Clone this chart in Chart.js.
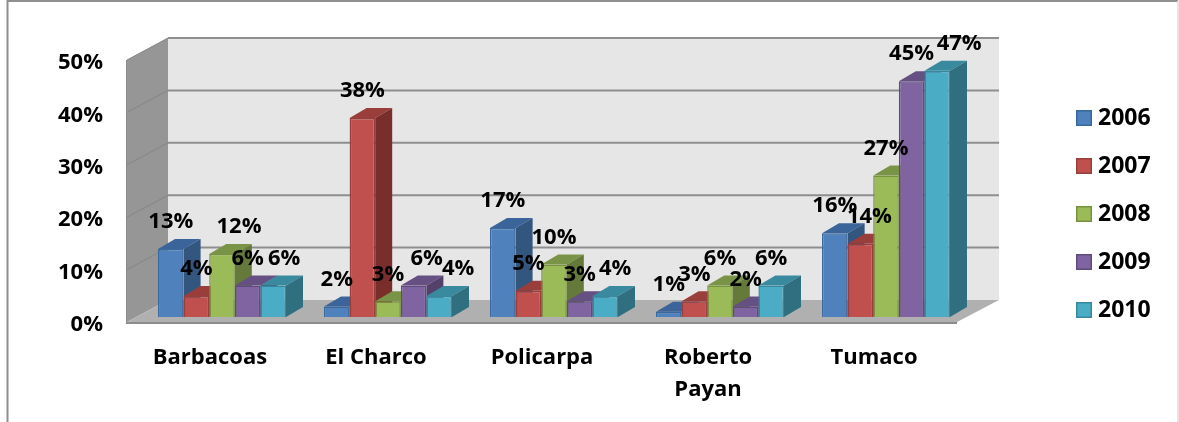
<!DOCTYPE html>
<html>
<head>
<meta charset="utf-8">
<style>html,body{margin:0;padding:0;background:#fff}canvas{display:block}</style>
<script src="https://cdn.jsdelivr.net/npm/chart.js@4/dist/chart.umd.min.js"></script>
</head>
<body>
<canvas id="c" width="1179" height="422"></canvas>
<script>
const categories = ['Barbacoas', 'El Charco', 'Policarpa', ['Roberto', 'Payan'], 'Tumaco'];
const seriesNames = ['2006', '2007', '2008', '2009', '2010'];
const values2006 = [13, 2, 17, 1, 16];
const values2007 = [4, 38, 5, 3, 14];
const values2008 = [12, 3, 10, 6, 27];
const values2009 = [6, 6, 3, 2, 45];
const values2010 = [6, 4, 4, 6, 47];
const allValues = [values2006, values2007, values2008, values2009, values2010];

const frontColors = ['#4F81BD', '#C0504D', '#9BBB59', '#8064A2', '#4BACC6'];
const edgeColors = ['#3A679C', '#963F3C', '#76923F', '#5F4A7E', '#36889F'];
const topColors = ['#3B659A', '#9A3E3B', '#7A9447', '#664F82', '#39899F'];
const sideColors = ['#33567F', '#7A2E2C', '#64793A', '#544169', '#2F6F80'];
// manual label shifts (series x category), as placed in the reference
const labelShiftX = [[0,0,0,0,0],[0,0,0,0,9],[17,0,0,0,0],[0,13,0,0,0],[11,19,10,0,22]];

const FONT = '"Open Sans", Lato, sans-serif';
const WALL = {dx: 41, dy: -22};
const BAR_SHIFT = {x: 12, y: -5};
const BAR_DEPTH = {dx: 17, dy: -10};
const Y_LABEL_DROP = 3;

function poly(ctx, pts, fill) {
  ctx.beginPath();
  pts.forEach((p, i) => i ? ctx.lineTo(p[0], p[1]) : ctx.moveTo(p[0], p[1]));
  ctx.closePath();
  ctx.fillStyle = fill;
  ctx.fill();
}

function legendIcon(i) {
  const c = document.createElement('canvas');
  c.width = 16; c.height = 16;
  const g = c.getContext('2d');
  g.fillStyle = frontColors[i];
  g.fillRect(0, 0, 16, 16);
  g.strokeStyle = edgeColors[i];
  g.lineWidth = 1.5;
  g.strokeRect(0.75, 0.75, 14.5, 14.5);
  return c;
}
const legendIcons = seriesNames.map((_, i) => legendIcon(i));

const scene = {
  id: 'scene',
  beforeLayout(chart) {
    const l = chart.legend;
    if (l && !l._patched) {
      const f = l.fit;
      l.fit = function () { f.call(this); this.width = 222; };
      l._patched = true;
    }
    const y = chart.scales.y;
    if (y && !y._patched) {
      const c = y._computeLabelItems;
      y._computeLabelItems = function (area) {
        const items = c.call(this, area);
        items.forEach(it => { it.options.translation = [it.options.translation[0], it.options.translation[1] + Y_LABEL_DROP]; });
        return items;
      };
      y._patched = true;
    }
  },
  afterLayout(chart) {
    const l = chart.legend;
    l.left = 1056.5; l.right = 1179;
    l.top = 0; l.bottom = 428;
    l.adjustHitBoxes();
  },
  beforeDraw(chart) {
    const ctx = chart.ctx;
    ctx.save();
    ctx.fillStyle = '#fff';
    ctx.fillRect(0, 0, chart.width, chart.height);
    ctx.strokeStyle = '#8f8f8f';
    ctx.lineWidth = 2;
    ctx.beginPath();
    ctx.moveTo(7.5, 422); ctx.lineTo(7.5, 1); ctx.lineTo(1178, 1);
    ctx.stroke();
    ctx.strokeStyle = '#e4e4e4';
    ctx.beginPath();
    ctx.moveTo(1178, 1); ctx.lineTo(1178, 422);
    ctx.stroke();
    ctx.restore();
  },
  beforeDatasetsDraw(chart) {
    const ctx = chart.ctx, a = chart.chartArea, y = chart.scales.y;
    const L = a.left, R = a.right, T = a.top, B = a.bottom;
    ctx.save();
    poly(ctx, [[L + WALL.dx, T + WALL.dy], [R + WALL.dx + 1, T + WALL.dy], [R + WALL.dx + 1, B + WALL.dy], [L + WALL.dx, B + WALL.dy]], '#E6E6E6');
    poly(ctx, [[L, T], [L + WALL.dx, T + WALL.dy], [L + WALL.dx, B + WALL.dy], [L, B]], '#969696');
    poly(ctx, [[L, B], [R, B], [R + WALL.dx + 1, B + WALL.dy], [L + WALL.dx, B + WALL.dy]], '#B0B0B0');
    y.ticks.forEach(t => {
      const py = y.getPixelForValue(t.value);
      if (t.value > 0) {
        ctx.strokeStyle = '#8E8E8E';
        ctx.lineWidth = 2;
        ctx.beginPath();
        ctx.moveTo(L + WALL.dx, py + WALL.dy);
        ctx.lineTo(R + WALL.dx + 1, py + WALL.dy);
        ctx.stroke();
        ctx.strokeStyle = '#858585';
        ctx.lineWidth = 1;
        ctx.beginPath();
        ctx.moveTo(L, py);
        ctx.lineTo(L + WALL.dx, py + WALL.dy);
        ctx.stroke();
      }
    });
    ctx.fillStyle = '#8C8C8C';
    ctx.fillRect(L - 1, B, R - L + 1, 2);
    ctx.fillRect(L - 1, T, 1, B - T);
    ctx.restore();
  },
  beforeDatasetDraw() { return false; },
  afterDatasetsDraw(chart) {
    const ctx = chart.ctx;
    ctx.save();
    ctx.translate(BAR_SHIFT.x, BAR_SHIFT.y);
    seriesNames.forEach((_, i) => {
      const meta = chart.getDatasetMeta(i);
      meta.data.forEach(el => {
        const x0 = el.x - el.width / 2, x1 = el.x + el.width / 2;
        const d = BAR_DEPTH;
        poly(ctx, [[x0, el.y], [x0 + d.dx, el.y + d.dy], [x1 + d.dx, el.y + d.dy], [x1, el.y]], topColors[i]);
        poly(ctx, [[x1, el.y], [x1 + d.dx, el.y + d.dy], [x1 + d.dx, el.base + d.dy], [x1, el.base]], sideColors[i]);
        el.draw(ctx);
      });
    });
    ctx.fillStyle = '#000';
    ctx.font = 'bold 22px ' + FONT;
    ctx.textAlign = 'center';
    ctx.textBaseline = 'middle';
    seriesNames.forEach((_, i) => {
      chart.getDatasetMeta(i).data.forEach((el, j) => {
        ctx.fillText(allValues[i][j] + '%', el.x + labelShiftX[i][j], el.y - 27);
      });
    });
    ctx.restore();
  }
};

new Chart(document.getElementById('c'), {
  type: 'bar',
  data: {
    labels: categories,
    datasets: seriesNames.map((n, i) => ({
      label: n,
      data: allValues[i],
      backgroundColor: frontColors[i],
      borderColor: edgeColors[i],
      borderWidth: 1.5,
      barPercentage: 1,
      categoryPercentage: 0.771
    }))
  },
  options: {
    responsive: false,
    animation: false,
    layout: {padding: {top: 60, left: 0, right: 0, bottom: 0}},
    plugins: {
      tooltip: {enabled: false},
      legend: {
        position: 'right',
        labels: {
          boxWidth: 16, boxHeight: 16, padding: 25,
          usePointStyle: true, pointStyleWidth: 5,
          color: '#000',
          font: {family: FONT, size: 23, weight: 'bold'},
          generateLabels(chart) {
            return Chart.defaults.plugins.legend.labels.generateLabels(chart)
              .map((it, i) => ({...it, pointStyle: legendIcons[i]}));
          }
        }
      }
    },
    scales: {
      x: {
        grid: {display: false, drawTicks: false},
        border: {display: false},
        ticks: {
          color: '#000', padding: 20, maxRotation: 0, autoSkip: false,
          font: {family: FONT, size: 22, weight: 'bold', lineHeight: 1.45}
        },
        afterFit(s) { s.height = 100; }
      },
      y: {
        min: 0, max: 50,
        grid: {display: false, drawTicks: false},
        border: {display: false},
        ticks: {
          stepSize: 10, color: '#000', padding: 24,
          font: {family: FONT, size: 22, weight: 'bold'},
          callback: v => v + '%'
        },
        afterFit(s) { s.width = 127; }
      }
    }
  },
  plugins: [scene]
});
</script>
</body>
</html>
